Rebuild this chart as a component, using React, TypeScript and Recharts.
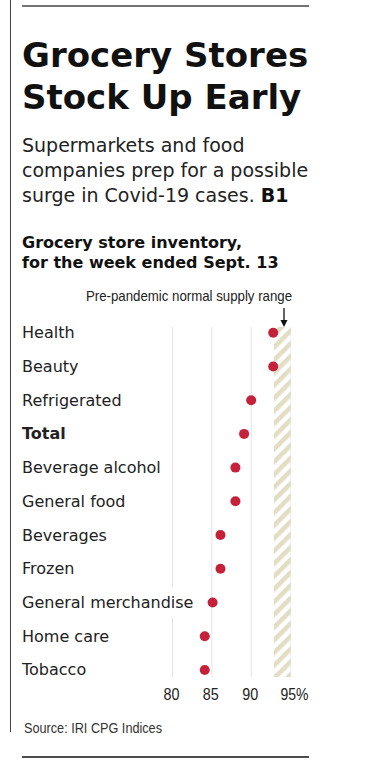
import React from 'react';
import { ScatterChart, Scatter, XAxis, YAxis, CartesianGrid, ReferenceArea } from 'recharts';

const categories = [
  'Health',
  'Beauty',
  'Refrigerated',
  'Total',
  'Beverage alcohol',
  'General food',
  'Beverages',
  'Frozen',
  'General merchandise',
  'Home care',
  'Tobacco',
];
const inventoryValues = [92.8, 92.8, 90.0, 89.1, 88.0, 88.0, 86.1, 86.1, 85.1, 84.1, 84.1];
const xTicks = [80, 85, 90, 95];
const normalRange = [92.9, 95];
const boldCategories = ['Total'];

const titleLines = ['Grocery Stores', 'Stock Up Early'];
const chartTitleLines = ['Grocery store inventory,', 'for the week ended Sept. 13'];
const annotation = 'Pre-pandemic normal supply range';
const sourceText = 'Source: IRI CPG Indices';

const data = categories.map((name, i) => ({ name, idx: i, value: inventoryValues[i] }));
const yTicks = categories.map((_, i) => i);

const SANS = "'DejaVu Sans', 'Noto Sans', sans-serif";
const NARROW = "'Liberation Sans', 'Roboto', sans-serif";
const DOT = '#c6213a';

let canvasCtx: CanvasRenderingContext2D | null = null;
function measure(text: string, font: string): number {
  if (typeof document === 'undefined') return text.length * 9;
  if (!canvasCtx) canvasCtx = document.createElement('canvas').getContext('2d');
  if (!canvasCtx) return text.length * 9;
  canvasCtx.font = font;
  return canvasCtx.measureText(text).width;
}

const YTick = (props: any) => {
  const { y, payload } = props;
  const name = categories[payload.value];
  if (name === undefined) return null;
  const bold = boldCategories.includes(name);
  const font = `${bold ? 'bold ' : ''}16px ${SANS}`;
  const w = measure(name, font);
  return (
    <g>
      <rect x={20} y={y - 15.5} width={w + 5} height={31} fill="#fff" />
      <text
        x={22}
        y={y + 5.5}
        fontFamily={SANS}
        fontSize={16}
        fontWeight={bold ? 'bold' : 'normal'}
        fill="#222"
      >
        {name}
      </text>
    </g>
  );
};

const XTick = (props: any) => {
  const { x, y, payload } = props;
  const last = payload.value === xTicks[xTicks.length - 1];
  const label = last ? `${payload.value}%` : String(payload.value);
  return (
    <text
      x={last ? x - 10 : x - 9}
      y={y + 23}
      textAnchor="start"
      fontFamily={NARROW}
      fontSize={16.5}
      fill="#222"
      textLength={last ? 28 : 16}
      lengthAdjust="spacingAndGlyphs"
    >
      {label}
    </text>
  );
};

const Dot = (props: any) => {
  const { cx, cy } = props;
  if (cx == null || cy == null) return null;
  return <circle cx={cx} cy={cy} r={5} fill={DOT} />;
};

export default function App() {
  return (
    <div
      style={{
        position: 'absolute',
        left: 0,
        top: 0,
        width: 369,
        height: 761,
        background: '#fff',
        overflow: 'hidden',
      }}
    >
      <svg
        width={369}
        height={761}
        style={{ position: 'absolute', left: 0, top: 0 }}
      >
        <line x1={10.5} y1={0} x2={10.5} y2={732} stroke="#444" strokeWidth={1} />
        <line x1={22} y1={6} x2={309} y2={6} stroke="#444" strokeWidth={1.5} />
        <line x1={22} y1={757} x2={309} y2={757} stroke="#111" strokeWidth={1.5} />
        {titleLines.map((t, i) => (
          <text
            key={t}
            x={22}
            y={66.5 + i * 42}
            fontFamily={SANS}
            fontSize={34}
            fontWeight="bold"
            fill="#111"
          >
            {t}
          </text>
        ))}
        <text x={22} y={151.7} fontFamily={SANS} fontSize={19} fill="#222">
          Supermarkets and food
        </text>
        <text x={22} y={176.7} fontFamily={SANS} fontSize={19} fill="#222">
          companies prep for a possible
        </text>
        <text x={22} y={201.7} fontFamily={SANS} fontSize={19} fill="#222">
          surge in Covid-19 cases. <tspan fontWeight="bold" fill="#111">B1</tspan>
        </text>
        {chartTitleLines.map((t, i) => (
          <text
            key={t}
            x={22}
            y={248.3 + i * 20}
            fontFamily={SANS}
            fontSize={16}
            fontWeight="bold"
            fill="#111"
          >
            {t}
          </text>
        ))}
        <text
          x={86}
          y={301}
          fontFamily={NARROW}
          fontSize={15}
          fill="#222"
          textLength={206}
          lengthAdjust="spacingAndGlyphs"
        >
          {annotation}
        </text>
        <text
          x={24}
          y={733}
          fontFamily={NARROW}
          fontSize={14.5}
          fill="#333"
          textLength={138}
          lengthAdjust="spacingAndGlyphs"
        >
          {sourceText}
        </text>
      </svg>

      <div style={{ position: 'absolute', left: 0, top: 300 }}>
        <ScatterChart
          width={369}
          height={420}
          margin={{ top: 27, right: 78.5, bottom: 13, left: 22.5 }}
        >
          <defs>
            <pattern
              id="stripes"
              patternUnits="userSpaceOnUse"
              width={9}
              height={9}
              patternTransform="rotate(45)"
            >
              <rect x={0} y={0} width={9} height={9} fill="#ffffff" />
              <rect x={0} y={0} width={4.6} height={9} fill="#e2dec4" />
            </pattern>
          </defs>
          <CartesianGrid horizontal={false} stroke="#e3e3e3" strokeWidth={1} />
          <ReferenceArea
            x1={normalRange[0]}
            x2={normalRange[1]}
            fill="url(#stripes)"
            fillOpacity={1}
            stroke="none"
            ifOverflow="visible"
          />
          <XAxis
            type="number"
            dataKey="value"
            domain={[80, 95]}
            ticks={xTicks}
            interval={0}
            axisLine={false}
            tickLine={false}
            tickSize={0}
            tickMargin={0}
            height={30}
            tick={<XTick />}
          />
          <YAxis
            type="number"
            dataKey="idx"
            domain={[-0.17, 10.21]}
            reversed
            ticks={yTicks}
            interval={0}
            axisLine={false}
            tickLine={false}
            tickSize={0}
            tickMargin={0}
            width={150}
            tick={<YTick />}
          />
          <Scatter data={data} isAnimationActive={false} shape={<Dot />} />
        </ScatterChart>
      </div>

      <svg
        width={369}
        height={761}
        style={{ position: 'absolute', left: 0, top: 0, pointerEvents: 'none' }}
      >
        <line x1={284} y1={308} x2={284} y2={321} stroke="#111" strokeWidth={1.3} />
        <path d="M280.5,320 L287.5,320 L284,327 Z" fill="#111" />
      </svg>
    </div>
  );
}
